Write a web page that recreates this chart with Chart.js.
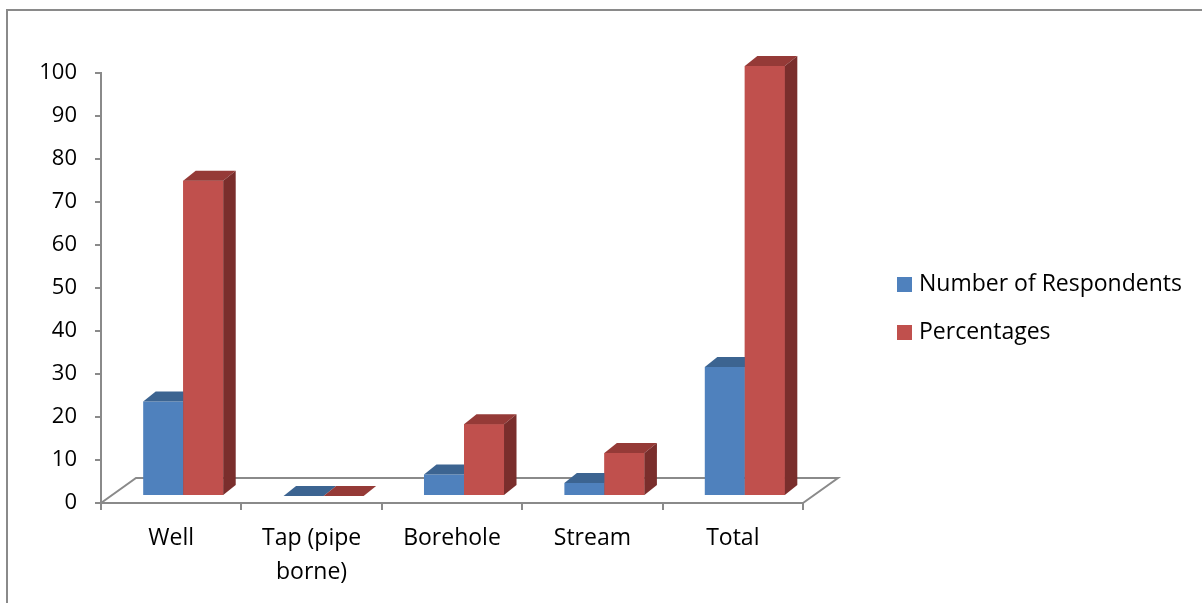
<!DOCTYPE html>
<html>
<head>
<meta charset="utf-8">
<title>Source of water</title>
<script src="https://cdn.jsdelivr.net/npm/chart.js@4/dist/chart.umd.min.js"></script>
<style>
  html, body { margin: 0; padding: 0; background: #ffffff; }
  #wrap { width: 1202px; height: 603px; }
  canvas { display: block; }
</style>
</head>
<body>
<div id="wrap"><canvas id="chart" width="1202" height="603"></canvas></div>
<script>
// Water sources and their counts
const categories = ['Well', ['Tap (pipe', 'borne)'], 'Borehole', 'Stream', 'Total'];
const respondents = [22, 0, 5, 3, 30];
const percentages = [73.3, 0, 16.7, 10, 100];
const seriesNames = ['Number of Respondents', 'Percentages'];

// Fill colours: front face, top face, side face
const blueFaces = ['#4f81bd', '#3c6491', '#30507a'];
const redFaces = ['#c0504d', '#953a37', '#7a2e2c'];
const axisGrey = '#8a8a8a';
const FONT = "'Open Sans', sans-serif";

// Oblique depth of each bar and of the floor
const BAR_DX = 12.5, BAR_DY = -10;
const FLOOR_DX = 35, FLOOR_DY = -25;
// Bars stand in the middle of the floor depth
const SHIFT_X = 12, SHIFT_Y = -7;

function drawFaces(ctx, bar, faces) {
  const p = bar.getProps(['x', 'y', 'base', 'width'], true);
  const l = p.x - p.width / 2, r = p.x + p.width / 2;
  const top = Math.min(p.y, p.base), base = Math.max(p.y, p.base);
  // top face
  ctx.fillStyle = faces[1];
  ctx.beginPath();
  ctx.moveTo(l, top);
  ctx.lineTo(r, top);
  ctx.lineTo(r + BAR_DX, top + BAR_DY);
  ctx.lineTo(l + BAR_DX, top + BAR_DY);
  ctx.closePath();
  ctx.fill();
  // side face
  if (base - top > 0.5) {
    ctx.fillStyle = faces[2];
    ctx.beginPath();
    ctx.moveTo(r, top);
    ctx.lineTo(r + BAR_DX, top + BAR_DY);
    ctx.lineTo(r + BAR_DX, base + BAR_DY);
    ctx.lineTo(r, base);
    ctx.closePath();
    ctx.fill();
  }
}

const depth3d = {
  id: 'depth3d',
  beforeDraw(chart) {
    const ctx = chart.ctx;
    ctx.save();
    ctx.fillStyle = '#ffffff';
    ctx.fillRect(0, 0, chart.width, chart.height);
    ctx.strokeStyle = axisGrey;
    ctx.lineWidth = 2;
    ctx.strokeRect(7, 10, chart.width + 20, chart.height + 20);
    ctx.restore();
  },
  beforeDatasetsDraw(chart) {
    const ctx = chart.ctx;
    const a = chart.chartArea;
    ctx.save();
    ctx.strokeStyle = axisGrey;
    ctx.lineWidth = 2;
    ctx.beginPath();
    ctx.moveTo(a.left, a.bottom);
    ctx.lineTo(a.left + FLOOR_DX, a.bottom + FLOOR_DY);
    ctx.lineTo(a.right + FLOOR_DX, a.bottom + FLOOR_DY);
    ctx.lineTo(a.right, a.bottom);
    ctx.stroke();
    ctx.restore();
    ctx.save();
    ctx.translate(SHIFT_X, SHIFT_Y);
  },
  afterDatasetsDraw(chart) {
    const ctx = chart.ctx;
    const blueBars = chart.getDatasetMeta(0).data;
    const redBars = chart.getDatasetMeta(1).data;
    // back-to-front: blue depth faces, then red front repainted over them
    blueBars.forEach(bar => drawFaces(ctx, bar, blueFaces));
    redBars.forEach(bar => {
      bar.draw(ctx);
      drawFaces(ctx, bar, redFaces);
    });
    ctx.restore();
  },
  afterDraw(chart) {
    // legend on the right
    const ctx = chart.ctx;
    ctx.save();
    ctx.font = '23px ' + FONT;
    ctx.textBaseline = 'middle';
    ctx.textAlign = 'left';
    chart.data.datasets.forEach((ds, i) => {
      const cy = 284.5 + i * 48;
      ctx.fillStyle = ds.backgroundColor;
      ctx.fillRect(897, cy - 7.5, 15, 15);
      ctx.fillStyle = '#000000';
      ctx.fillText(ds.label, 919, cy);
    });
    ctx.restore();
  }
};

new Chart(document.getElementById('chart'), {
  type: 'bar',
  data: {
    labels: categories,
    datasets: [
      { label: seriesNames[0], data: respondents, backgroundColor: blueFaces[0], clip: false },
      { label: seriesNames[1], data: percentages, backgroundColor: redFaces[0], clip: false }
    ]
  },
  options: {
    responsive: false,
    animation: false,
    devicePixelRatio: 1,
    layout: { padding: { left: 0, right: 399, top: 73, bottom: 0 } },
    datasets: { bar: { barPercentage: 1, categoryPercentage: 0.57, borderWidth: 0 } },
    plugins: { legend: { display: false }, tooltip: { enabled: false } },
    scales: {
      x: {
        offset: true,
        grid: { offset: true, drawOnChartArea: false, drawTicks: true, tickLength: 7, color: axisGrey, lineWidth: 2 },
        border: { display: true, color: axisGrey, width: 2 },
        ticks: { color: '#000000', font: { family: FONT, size: 23, lineHeight: 1.5 }, padding: 11, maxRotation: 0, autoSkip: false },
        afterFit(scale) { scale.height = 100; }
      },
      y: {
        min: 0, max: 100,
        grid: { drawOnChartArea: false, drawTicks: true, tickLength: 6, color: axisGrey, lineWidth: 2 },
        border: { display: true, color: axisGrey, width: 2 },
        ticks: { stepSize: 10, color: '#000000', font: { family: FONT, size: 22 }, padding: 18 },
        afterFit(scale) { scale.width = 101; }
      }
    }
  },
  plugins: [depth3d]
});
</script>
</body>
</html>
